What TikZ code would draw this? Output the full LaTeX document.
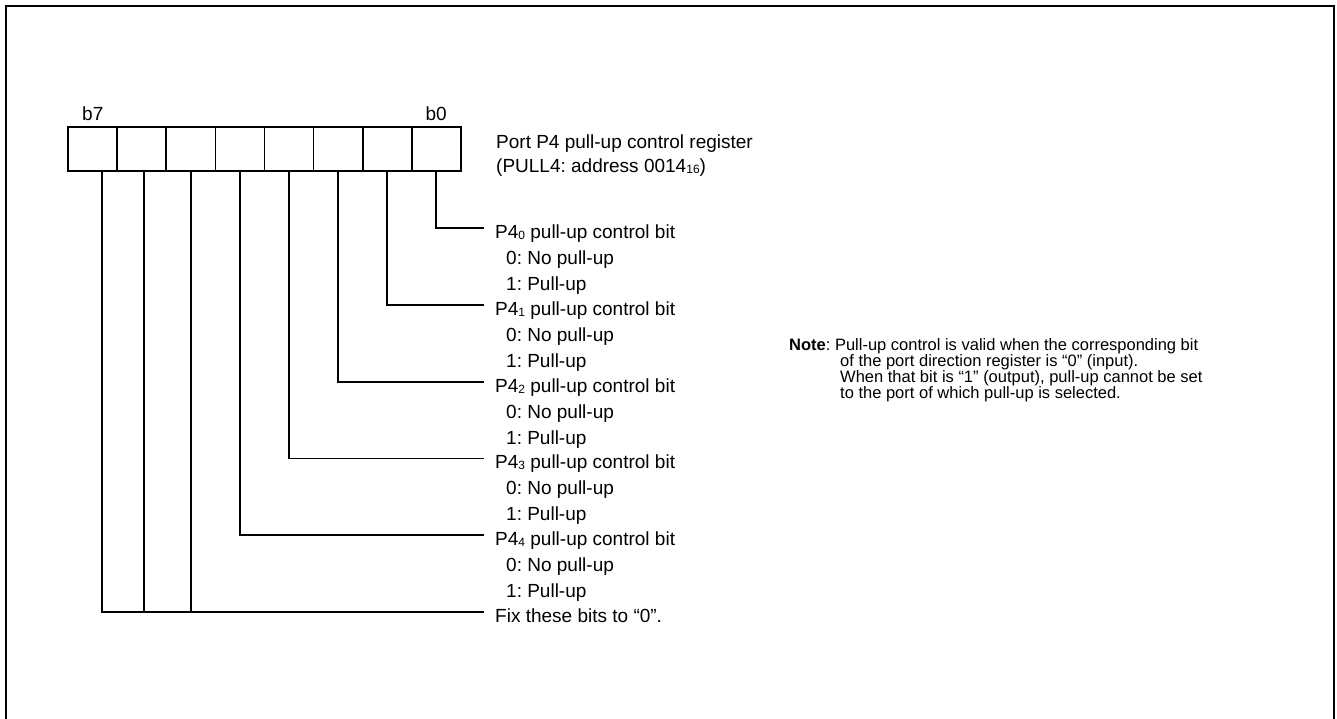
\documentclass[tikz,border=0pt]{standalone}
\usepackage{fontspec}
\setmainfont{Liberation Sans}
\frenchspacing
\usepackage{tikz}
\usetikzlibrary{positioning}

\newcommand{\bitsub}[1]{\raisebox{-1pt}{\fontsize{12}{12}\selectfont #1}}
\tikzset{
  wire/.style={line width=1.8pt},
  cell/.style={draw, line width=1.8pt, minimum width=49pt, minimum height=44pt, inner sep=0pt, outer sep=0pt},
  bitlbl/.style={anchor=west, inner xsep=11pt, inner ysep=0pt, text height=21pt, text depth=0pt, font=\fontsize{19}{26}\selectfont},
  optlbl/.style={anchor=base west, inner sep=0pt, font=\fontsize{19}{26}\selectfont},
  notelbl/.style={anchor=base west, inner sep=0pt, font=\fontsize{16.5}{16.5}\selectfont},
}

\begin{document}
\begin{tikzpicture}[x=1pt,y=-1pt]
\useasboundingbox (0,0) rectangle (1337,718);
\draw[line width=2.4pt] (6,740) -- (6,6) -- (1334,6) -- (1334,740);

\foreach \i in {7,...,0}
  \node[cell] (c\i) at ({92.8+49.05*(7-\i)},149) {};
\node[optlbl, anchor=south, above=6pt of c7] (b7) {b7};
\node[optlbl, anchor=south, above=6pt of c0] (b0) {b0};

\node[optlbl] (reg) at (496,148.5) {Port P4 pull-up control register};
\node[optlbl] (addr) at ([yshift=-24pt]reg.base west) {(PULL4: address 0014\bitsub{16})};

\foreach \i/\y in {0/228,1/304.8,2/381.6,3/458.4,4/535.2} {
  \node[bitlbl] (l\i) at (484,\y) {P4\bitsub{\i} pull-up control bit};
  \node[optlbl] (z\i) at ([xshift=22pt,yshift=-26pt]l\i.base west) {0: No pull-up};
  \node[optlbl] (u\i) at ([yshift=-26pt]z\i.base west) {1: Pull-up};
  \draw[wire] (c\i.south) |- (l\i.west);
}

\node[bitlbl] (fix) at (484,612) {Fix these bits to “0”.};
\draw[wire] ([xshift=9pt]c7.south) |- (fix.west);
\draw[wire] ([xshift=2pt]c6.south) -- ([xshift=2pt]c6.south |- fix.west);
\draw[wire] (c5.south) -- (c5.south |- fix.west);

\node[notelbl] (note) at (789,350) {\textbf{Note}: Pull-up control is valid when the corresponding bit};
\node[notelbl] (note2) at ([xshift=51pt,yshift=-16pt]note.base west) {of the port direction register is “0” (input).};
\node[notelbl] (note3) at ([yshift=-16pt]note2.base west) {When that bit is “1” (output), pull-up cannot be set};
\node[notelbl] (note4) at ([yshift=-16pt]note3.base west) {to the port of which pull-up is selected.};
\end{tikzpicture}
\end{document}
